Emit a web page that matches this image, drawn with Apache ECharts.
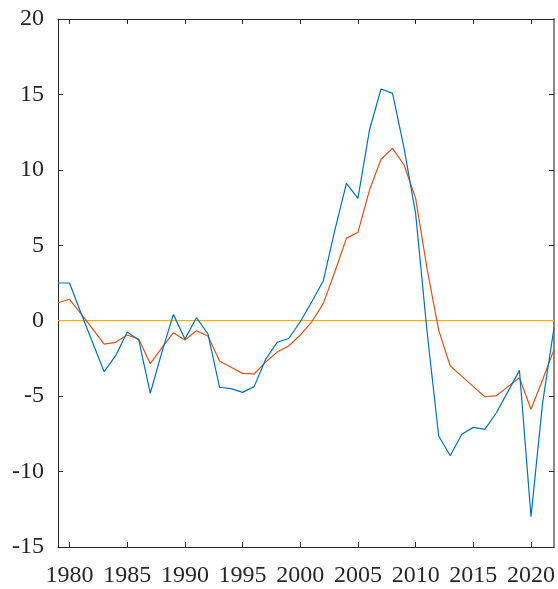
<!DOCTYPE html>
<html>
<head>
<meta charset="utf-8">
<script src="https://cdn.jsdelivr.net/npm/echarts@6/dist/echarts.min.js"></script>
<style>
  html, body { margin: 0; padding: 0; background: #fff; }
  #chart { width: 558px; height: 589px; }
</style>
</head>
<body>
<div id="chart"></div>
<script>
// years 1979..2022
const years = [];
for (let y = 1979; y <= 2022; y++) years.push(y);

const blueValues = [
  2.5, 2.5, 0.5, -1.45, -3.38, -2.32, -0.75, -1.28, -4.81, -2.1,
  0.42, -1.22, 0.2, -0.88, -4.41, -4.5, -4.75, -4.37, -2.56, -1.43,
  -1.18, -0.07, 1.26, 2.65, 6.01, 9.1, 8.11, 12.64, 15.36, 15.07,
  11.42, 7.1, -0.8, -7.64, -8.95, -7.53, -7.07, -7.2, -6.1, -4.7,
  -3.29, -12.99, -5.48, -0.44
];
const orangeValues = [
  1.19, 1.42, 0.46, -0.54, -1.55, -1.43, -0.95, -1.21, -2.85, -1.8,
  -0.8, -1.28, -0.66, -1.01, -2.67, -3.09, -3.49, -3.53, -2.74, -2.08,
  -1.68, -0.95, -0.07, 1.15, 3.25, 5.46, 5.86, 8.66, 10.7, 11.42,
  10.32, 8.11, 3.4, -0.62, -3.0, -3.67, -4.37, -5.04, -4.97, -4.37,
  -3.78, -5.87, -3.93, -1.9
];
const zeroYears = [1979, 2022];
const zeroValues = [0, 0];
const xTicks = [1980, 1985, 1990, 1995, 2000, 2005, 2010, 2015, 2020];

const pairs = (xs, ys) => xs.map((x, i) => [x, ys[i]]);

const font = "'Liberation Serif', 'Times New Roman', serif";
const axisColor = '#262626';

let myChart = echarts.init(document.getElementById('chart'));
let option = {
  animation: false,
  grid: { left: 58, right: 1, top: 19, bottom: 42 },
  xAxis: [{
    type: 'value',
    min: 1979,
    max: 2022,
    position: 'bottom',
    splitLine: { show: false },
    axisLine: { onZero: false, lineStyle: { color: axisColor, width: 1 } },
    axisTick: { inside: true, length: 5, customValues: xTicks, lineStyle: { color: axisColor } },
    axisLabel: {
      customValues: xTicks, color: '#262626', fontFamily: font, fontSize: 24, margin: 17,
      formatter: v => String(v)
    }
  }, {
    type: 'value',
    min: 1979,
    max: 2022,
    position: 'top',
    splitLine: { show: false },
    axisLine: { onZero: false, lineStyle: { color: axisColor, width: 1 } },
    axisTick: { inside: true, length: 5, customValues: xTicks, lineStyle: { color: axisColor } },
    axisLabel: { show: false }
  }],
  yAxis: [{
    type: 'value',
    min: -15,
    max: 20,
    interval: 5,
    position: 'left',
    splitLine: { show: false },
    axisLine: { show: true, onZero: false, lineStyle: { color: axisColor, width: 1 } },
    axisTick: { show: true, inside: true, length: 5, lineStyle: { color: axisColor } },
    axisLabel: { color: '#262626', fontFamily: font, fontSize: 24, margin: 14 }
  }, {
    type: 'value',
    min: -15,
    max: 20,
    interval: 5,
    position: 'right',
    splitLine: { show: false },
    axisLine: { show: true, onZero: false, lineStyle: { color: '#888', width: 2 } },
    axisTick: { show: true, inside: true, length: 5, lineStyle: { color: axisColor } },
    axisLabel: { show: false }
  }],
  series: [{
    type: 'line',
    data: pairs(zeroYears, zeroValues),
    showSymbol: false,
    lineStyle: { color: '#EDB120', width: 1.2 },
    z: 1
  }, {
    type: 'line',
    data: pairs(years, blueValues),
    showSymbol: false,
    lineStyle: { color: '#0072BD', width: 1.2 },
    z: 3
  }, {
    type: 'line',
    data: pairs(years, orangeValues),
    showSymbol: false,
    lineStyle: { color: '#D95319', width: 1.2 },
    z: 2
  }]
};
myChart.setOption(option);
</script>
</body>
</html>
